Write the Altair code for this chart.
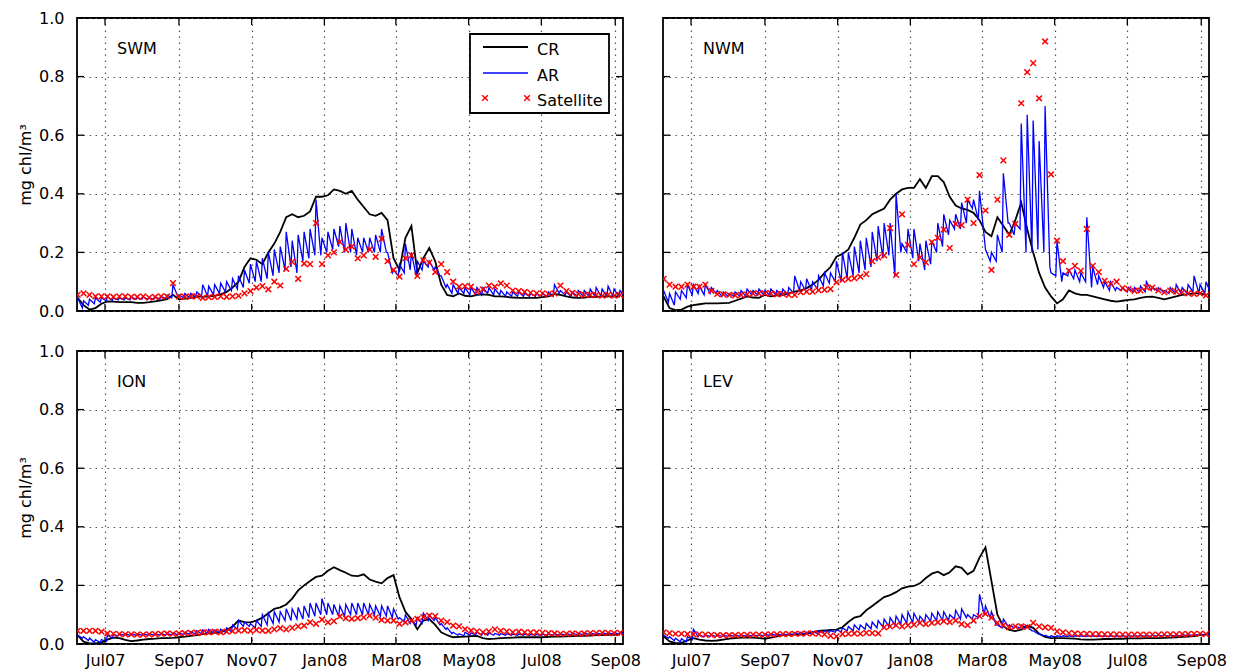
import altair as alt
import pandas as pd

# ---------------- data ----------------
START_DATE = "2007-06-08"   # first 5-day step
STEP_DAYS = 5
AR_DECAY_DAYS = 4           # AR value just before the next assimilation

TICK_MONTHS = ["2007-07", "2007-09", "2007-11", "2008-01",
               "2008-03", "2008-05", "2008-07", "2008-09"]
Y_TICKS = [0.0, 0.2, 0.4, 0.6, 0.8, 1.0]
SERIES = ["CR", "AR", "Satellite"]

SWM_CR = [0.045, 0.02, 0.005, 0.01, 0.025, 0.033, 0.032, 0.03, 0.03, 0.03,
          0.028, 0.028, 0.03, 0.033, 0.036, 0.04, 0.055, 0.04, 0.042, 0.045,
          0.05, 0.048, 0.05, 0.052, 0.057, 0.065, 0.08, 0.1, 0.15, 0.18,
          0.175, 0.16, 0.2, 0.23, 0.27, 0.32, 0.33, 0.32, 0.325, 0.34,
          0.39, 0.39, 0.395, 0.415, 0.41, 0.40, 0.41, 0.38, 0.355, 0.33,
          0.325, 0.335, 0.31, 0.18, 0.14, 0.25, 0.29, 0.13, 0.18, 0.215,
          0.17, 0.09, 0.055, 0.05, 0.06, 0.052, 0.05, 0.055, 0.057, 0.055,
          0.05, 0.05, 0.048, 0.046, 0.045, 0.045, 0.045, 0.045, 0.047, 0.05,
          0.058, 0.055, 0.05, 0.046, 0.045, 0.046, 0.048, 0.048, 0.05, 0.05,
          0.05, 0.05]
SWM_SAT = [0.055, 0.06, 0.055, 0.05, 0.05, 0.05, 0.048, 0.05, 0.05, 0.048,
           0.048, 0.05, 0.046, 0.048, 0.05, 0.05, 0.095, 0.05, 0.048, 0.05,
           0.05, 0.045, 0.047, 0.048, 0.05, 0.048, 0.05, 0.052, 0.06, 0.068,
           0.08, 0.085, 0.074, 0.1, 0.087, 0.144, 0.168, 0.11, 0.162, 0.16,
           0.30, 0.16, 0.19, 0.2, 0.236, 0.21, 0.22, 0.18, 0.19, 0.21,
           0.185, 0.246, 0.17, 0.14, 0.117, 0.18, 0.19, 0.12, 0.173, 0.165,
           0.133, 0.16, 0.133, 0.1, 0.083, 0.085, 0.083, 0.066, 0.074, 0.087,
           0.083, 0.094, 0.087, 0.07, 0.068, 0.065, 0.062, 0.06, 0.06, 0.058,
           0.06, 0.087, 0.068, 0.062, 0.058, 0.055, 0.055, 0.055, 0.052, 0.055,
           0.052, 0.055]
SWM_AR_PEAK = [0.045, 0.035, 0.04, 0.045, 0.045, 0.05, 0.045, 0.045, 0.045, 0.048,
               0.045, 0.048, 0.045, 0.048, 0.05, 0.055, 0.09, 0.055, 0.06, 0.06,
               0.065, 0.09, 0.085, 0.09, 0.095, 0.1, 0.11, 0.12, 0.14, 0.16,
               0.17, 0.18, 0.2, 0.21, 0.22, 0.27, 0.24, 0.26, 0.27, 0.28,
               0.38, 0.25, 0.27, 0.28, 0.29, 0.3, 0.28, 0.25, 0.25, 0.25,
               0.26, 0.28, 0.2, 0.14, 0.16, 0.23, 0.2, 0.17, 0.17, 0.17,
               0.15, 0.12, 0.09, 0.09, 0.08, 0.08, 0.08, 0.08, 0.08, 0.08,
               0.075, 0.07, 0.065, 0.065, 0.065, 0.06, 0.06, 0.06, 0.06, 0.065,
               0.09, 0.07, 0.065, 0.065, 0.07, 0.07, 0.075, 0.08, 0.075, 0.085,
               0.075, 0.07]
SWM_AR_LOW = [0.01, 0.02, 0.025, 0.03, 0.035, 0.035, 0.038, 0.038, 0.038, 0.04,
              0.04, 0.04, 0.04, 0.04, 0.042, 0.045, 0.05, 0.045, 0.045, 0.048,
              0.05, 0.05, 0.055, 0.06, 0.065, 0.07, 0.075, 0.08, 0.095, 0.1,
              0.1, 0.11, 0.12, 0.13, 0.14, 0.15, 0.13, 0.17, 0.18, 0.19,
              0.19, 0.2, 0.21, 0.22, 0.2, 0.2, 0.19, 0.2, 0.2, 0.2,
              0.2, 0.2, 0.13, 0.12, 0.13, 0.14, 0.12, 0.14, 0.15, 0.14,
              0.12, 0.08, 0.06, 0.06, 0.06, 0.055, 0.055, 0.055, 0.06, 0.055,
              0.055, 0.05, 0.05, 0.05, 0.05, 0.05, 0.05, 0.05, 0.05, 0.05,
              0.06, 0.055, 0.05, 0.05, 0.05, 0.05, 0.05, 0.05, 0.05, 0.05,
              0.05, 0.05]

NWM_CR = [0.05, 0.01, 0.003, 0.005, 0.015, 0.02, 0.023, 0.026, 0.026, 0.026,
          0.027, 0.028, 0.035, 0.042, 0.05, 0.046, 0.045, 0.055, 0.05, 0.053,
          0.055, 0.06, 0.066, 0.07, 0.078, 0.09, 0.106, 0.13, 0.15, 0.185,
          0.195, 0.21, 0.25, 0.295, 0.31, 0.33, 0.34, 0.35, 0.38, 0.40,
          0.415, 0.42, 0.42, 0.45, 0.42, 0.46, 0.46, 0.44, 0.39, 0.36,
          0.35, 0.345, 0.335, 0.31, 0.27, 0.255, 0.32, 0.29, 0.26, 0.31,
          0.37, 0.28, 0.2, 0.13, 0.08, 0.05, 0.026, 0.04, 0.07, 0.06,
          0.055, 0.055, 0.05, 0.045, 0.04, 0.035, 0.032, 0.035, 0.038, 0.04,
          0.045, 0.048, 0.049, 0.045, 0.04, 0.045, 0.05, 0.055, 0.057, 0.06,
          0.06, 0.055]
NWM_SAT = [0.11, 0.09, 0.083, 0.083, 0.09, 0.083, 0.083, 0.09, 0.069, 0.058,
           0.057, 0.055, 0.053, 0.055, 0.057, 0.06, 0.06, 0.06, 0.06, 0.057,
           0.058, 0.055, 0.055, 0.064, 0.066, 0.066, 0.071, 0.072, 0.075, 0.098,
           0.106, 0.11, 0.112, 0.117, 0.126, 0.17, 0.183, 0.19, 0.283, 0.123,
           0.33, 0.226, 0.16, 0.183, 0.166, 0.235, 0.25, 0.278, 0.215, 0.297,
           0.293, 0.38, 0.3, 0.464, 0.343, 0.14, 0.38, 0.514, 0.26, 0.297,
           0.709, 0.815, 0.846, 0.726, 0.92, 0.466, 0.24, 0.17, 0.137, 0.154,
           0.137, 0.28, 0.154, 0.133, 0.103, 0.093, 0.1, 0.078, 0.075, 0.069,
           0.07, 0.081, 0.08, 0.07, 0.064, 0.07, 0.066, 0.064, 0.06, 0.058,
           0.06, 0.053]
NWM_AR_PEAK = [0.07, 0.06, 0.065, 0.07, 0.09, 0.09, 0.085, 0.09, 0.08, 0.07,
               0.065, 0.06, 0.065, 0.07, 0.075, 0.07, 0.075, 0.07, 0.075, 0.07,
               0.075, 0.08, 0.12, 0.1, 0.11, 0.1, 0.12, 0.13, 0.13, 0.17,
               0.2, 0.2, 0.22, 0.24, 0.25, 0.27, 0.29, 0.3, 0.3, 0.4,
               0.23, 0.28, 0.28, 0.23, 0.24, 0.24, 0.3, 0.33, 0.31, 0.33,
               0.37, 0.38, 0.38, 0.41, 0.21, 0.2, 0.26, 0.47, 0.3, 0.3,
               0.64, 0.67, 0.65, 0.58, 0.70, 0.13, 0.24, 0.13, 0.14, 0.14,
               0.13, 0.32, 0.15, 0.12, 0.1, 0.1, 0.08, 0.08, 0.08, 0.08,
               0.085, 0.1, 0.08, 0.08, 0.07, 0.08, 0.09, 0.08, 0.09, 0.12,
               0.09, 0.1]
NWM_AR_LOW = [0.03, 0.02, 0.04, 0.045, 0.055, 0.06, 0.055, 0.06, 0.06, 0.05,
              0.05, 0.05, 0.05, 0.05, 0.055, 0.055, 0.055, 0.055, 0.055, 0.055,
              0.055, 0.06, 0.07, 0.07, 0.07, 0.075, 0.085, 0.095, 0.1, 0.1,
              0.11, 0.12, 0.13, 0.14, 0.15, 0.17, 0.18, 0.19, 0.12, 0.2,
              0.2, 0.18, 0.17, 0.14, 0.16, 0.2, 0.22, 0.26, 0.28, 0.28,
              0.3, 0.35, 0.31, 0.25, 0.17, 0.17, 0.2, 0.3, 0.26, 0.28,
              0.2, 0.2, 0.21, 0.2, 0.15, 0.12, 0.1, 0.12, 0.11, 0.1,
              0.1, 0.08, 0.09, 0.08, 0.07, 0.07, 0.07, 0.065, 0.065, 0.065,
              0.065, 0.07, 0.07, 0.065, 0.06, 0.06, 0.06, 0.06, 0.065, 0.06,
              0.06, 0.06]

ION_CR = [0.03, 0.008, 0.002, 0.002, 0.005, 0.015, 0.022, 0.02, 0.014, 0.01,
          0.012, 0.015, 0.017, 0.018, 0.02, 0.02, 0.021, 0.023, 0.025, 0.028,
          0.03, 0.034, 0.036, 0.038, 0.04, 0.048, 0.06, 0.08, 0.075, 0.074,
          0.08, 0.09, 0.105, 0.12, 0.125, 0.135, 0.155, 0.183, 0.2, 0.215,
          0.229, 0.233, 0.25, 0.262, 0.252, 0.243, 0.233, 0.232, 0.238, 0.22,
          0.213, 0.207, 0.225, 0.235, 0.16, 0.11, 0.085, 0.05, 0.08, 0.085,
          0.065, 0.04, 0.03, 0.023, 0.024, 0.025, 0.027, 0.028, 0.02, 0.017,
          0.018, 0.02, 0.021, 0.022, 0.023, 0.023, 0.023, 0.023, 0.023, 0.024,
          0.025, 0.025, 0.026, 0.027, 0.028, 0.028, 0.029, 0.03, 0.03, 0.031,
          0.031, 0.032]
ION_SAT = [0.045, 0.045, 0.045, 0.045, 0.042, 0.036, 0.035, 0.034, 0.033, 0.033,
           0.032, 0.032, 0.033, 0.034, 0.035, 0.036, 0.035, 0.036, 0.037, 0.038,
           0.038, 0.04, 0.04, 0.042, 0.04, 0.042, 0.044, 0.046, 0.047, 0.045,
           0.048, 0.046, 0.045, 0.05, 0.054, 0.05, 0.055, 0.06, 0.063, 0.074,
           0.069, 0.083, 0.074, 0.078, 0.094, 0.088, 0.086, 0.088, 0.091, 0.097,
           0.09, 0.082, 0.08, 0.08, 0.069, 0.074, 0.08, 0.086, 0.092, 0.097,
           0.095, 0.08, 0.075, 0.063, 0.06, 0.051, 0.046, 0.043, 0.04, 0.043,
           0.05, 0.045, 0.043, 0.04, 0.042, 0.04, 0.04, 0.04, 0.038, 0.037,
           0.036, 0.035, 0.035, 0.036, 0.035, 0.036, 0.037, 0.037, 0.038, 0.038,
           0.037, 0.038]
ION_AR_PEAK = [0.03, 0.025, 0.02, 0.015, 0.015, 0.03, 0.032, 0.034, 0.034, 0.034,
               0.034, 0.034, 0.035, 0.035, 0.036, 0.036, 0.038, 0.038, 0.04, 0.042,
               0.045, 0.048, 0.05, 0.048, 0.05, 0.055, 0.065, 0.08, 0.075, 0.07,
               0.08, 0.1, 0.105, 0.11, 0.11, 0.12, 0.12, 0.125, 0.13, 0.14,
               0.14, 0.155, 0.14, 0.135, 0.13, 0.135, 0.14, 0.14, 0.14, 0.135,
               0.13, 0.13, 0.13, 0.12, 0.09, 0.1, 0.08, 0.09, 0.105, 0.1,
               0.09, 0.07, 0.055, 0.04, 0.035, 0.04, 0.038, 0.042, 0.04, 0.038,
               0.036, 0.035, 0.035, 0.034, 0.034, 0.034, 0.033, 0.033, 0.033, 0.034,
               0.035, 0.035, 0.036, 0.037, 0.037, 0.038, 0.038, 0.038, 0.039, 0.039,
               0.04, 0.04]
ION_AR_LOW = [0.02, 0.012, 0.006, 0.005, 0.008, 0.02, 0.028, 0.03, 0.03, 0.03,
              0.03, 0.03, 0.03, 0.03, 0.03, 0.031, 0.031, 0.032, 0.033, 0.034,
              0.035, 0.036, 0.038, 0.038, 0.04, 0.042, 0.05, 0.06, 0.06, 0.055,
              0.06, 0.065, 0.07, 0.075, 0.08, 0.08, 0.085, 0.085, 0.09, 0.095,
              0.1, 0.1, 0.1, 0.095, 0.095, 0.1, 0.1, 0.1, 0.1, 0.1,
              0.095, 0.095, 0.09, 0.085, 0.075, 0.07, 0.065, 0.07, 0.08, 0.08,
              0.065, 0.05, 0.035, 0.03, 0.028, 0.03, 0.03, 0.03, 0.03, 0.03,
              0.03, 0.03, 0.03, 0.03, 0.03, 0.03, 0.03, 0.03, 0.03, 0.03,
              0.03, 0.03, 0.031, 0.032, 0.032, 0.032, 0.033, 0.033, 0.034, 0.034,
              0.034, 0.035]

LEV_CR = [0.026, 0.009, 0.003, 0.004, 0.012, 0.02, 0.015, 0.012, 0.011, 0.012,
          0.015, 0.018, 0.02, 0.022, 0.023, 0.022, 0.02, 0.018, 0.022, 0.026,
          0.03, 0.031, 0.032, 0.032, 0.035, 0.04, 0.045, 0.046, 0.048, 0.049,
          0.057, 0.075, 0.09, 0.095, 0.115, 0.13, 0.145, 0.16, 0.167, 0.177,
          0.19, 0.196, 0.198, 0.207, 0.225, 0.24, 0.247, 0.235, 0.245, 0.265,
          0.26, 0.238, 0.25, 0.295, 0.33, 0.215, 0.1, 0.06, 0.048, 0.044,
          0.049, 0.063, 0.055, 0.035, 0.024, 0.02, 0.02, 0.02, 0.019, 0.018,
          0.016, 0.015, 0.015, 0.016, 0.017, 0.017, 0.018, 0.018, 0.019, 0.019,
          0.019, 0.02, 0.02, 0.02, 0.021, 0.022, 0.023, 0.024, 0.025, 0.027,
          0.03, 0.032]
LEV_SAT = [0.04, 0.037, 0.035, 0.035, 0.034, 0.033, 0.033, 0.032, 0.031, 0.03,
           0.03, 0.03, 0.03, 0.031, 0.031, 0.032, 0.032, 0.032, 0.033, 0.033,
           0.034, 0.034, 0.035, 0.035, 0.036, 0.036, 0.035, 0.033, 0.028, 0.026,
           0.034, 0.035, 0.036, 0.035, 0.038, 0.037, 0.036, 0.057, 0.06, 0.064,
           0.06, 0.064, 0.066, 0.072, 0.068, 0.072, 0.074, 0.078, 0.075, 0.08,
           0.068, 0.064, 0.08, 0.095, 0.103, 0.09, 0.072, 0.064, 0.057, 0.06,
           0.06, 0.058, 0.072, 0.06, 0.057, 0.055, 0.043, 0.04, 0.037, 0.036,
           0.035, 0.035, 0.034, 0.034, 0.033, 0.033, 0.033, 0.032, 0.032, 0.032,
           0.032, 0.032, 0.032, 0.032, 0.033, 0.033, 0.033, 0.034, 0.034, 0.035,
           0.035, 0.034]
LEV_AR_PEAK = [0.03, 0.025, 0.02, 0.018, 0.025, 0.05, 0.03, 0.03, 0.03, 0.03,
               0.03, 0.03, 0.031, 0.031, 0.032, 0.032, 0.032, 0.033, 0.034, 0.034,
               0.035, 0.036, 0.038, 0.04, 0.04, 0.042, 0.044, 0.046, 0.046, 0.048,
               0.055, 0.06, 0.065, 0.065, 0.07, 0.075, 0.08, 0.085, 0.09, 0.095,
               0.1, 0.11, 0.105, 0.095, 0.1, 0.105, 0.11, 0.11, 0.1, 0.115,
               0.12, 0.1, 0.1, 0.17, 0.13, 0.11, 0.065, 0.085, 0.065, 0.06,
               0.065, 0.06, 0.045, 0.035, 0.03, 0.028, 0.028, 0.028, 0.028, 0.028,
               0.028, 0.028, 0.028, 0.028, 0.028, 0.028, 0.028, 0.028, 0.029, 0.029,
               0.029, 0.029, 0.03, 0.03, 0.03, 0.031, 0.031, 0.032, 0.032, 0.033,
               0.034, 0.035]
LEV_AR_LOW = [0.02, 0.011, 0.008, 0.007, 0.015, 0.025, 0.025, 0.026, 0.026, 0.026,
              0.026, 0.027, 0.027, 0.027, 0.028, 0.028, 0.028, 0.029, 0.03, 0.03,
              0.031, 0.032, 0.033, 0.034, 0.035, 0.036, 0.038, 0.04, 0.04, 0.042,
              0.045, 0.045, 0.048, 0.05, 0.052, 0.055, 0.058, 0.06, 0.065, 0.068,
              0.07, 0.072, 0.075, 0.075, 0.078, 0.08, 0.08, 0.08, 0.085, 0.085,
              0.09, 0.085, 0.09, 0.1, 0.09, 0.065, 0.055, 0.06, 0.055, 0.055,
              0.055, 0.045, 0.035, 0.028, 0.023, 0.024, 0.025, 0.025, 0.025, 0.025,
              0.025, 0.025, 0.025, 0.025, 0.025, 0.025, 0.026, 0.026, 0.026, 0.026,
              0.026, 0.026, 0.027, 0.027, 0.027, 0.028, 0.028, 0.029, 0.029, 0.03,
              0.031, 0.032]

# ---------------- style ----------------
FONT = "DejaVu Sans"
FS = 16
W = 546
H = 293
TICK_LEN = 7
X_PATH = "M-1,-1L1,1M-1,1L1,-1"
Y_TITLE = "mg chl/m\u00b3"
MARK_SIZE = 32

x_domain = [alt.DateTime(year=2007, month=6, date=7, hours=12),
            alt.DateTime(year=2008, month=9, date=7, hours=12)]
x_tick_dt = [alt.DateTime(year=int(s[:4]), month=int(s[5:7]), date=1) for s in TICK_MONTHS]
tick_df = pd.DataFrame({"date": pd.to_datetime([s + "-01T00:00:00" for s in TICK_MONTHS])})
ytick_df = pd.DataFrame({"value": Y_TICKS})


def panel(name, cr, ar_peak, ar_low, sat, x_labels, y_labels, legend):
    dates = pd.date_range(START_DATE, periods=len(cr), freq=f"{STEP_DAYS}D")
    cr_df = pd.DataFrame({"date": dates, "value": cr})
    ar_dates, ar_vals = [], []
    for d, p, lo in zip(dates, ar_peak, ar_low):
        ar_dates += [d, d + pd.Timedelta(days=AR_DECAY_DAYS)]
        ar_vals += [p, lo]
    ar_df = pd.DataFrame({"date": ar_dates, "value": ar_vals})
    sat_df = pd.DataFrame({"date": dates, "value": sat})

    xs = alt.Scale(domain=x_domain)
    ys = alt.Scale(domain=[0, 1], nice=False, zero=False)
    xa = alt.Axis(values=x_tick_dt, format="%b%y", grid=True, ticks=False, domain=False,
                  labels=x_labels, labelPadding=8, labelFlush=False, labelOverlap=False,
                  title=None)
    ya = alt.Axis(values=Y_TICKS, format=".1f", grid=True, ticks=False, domain=False,
                  labels=y_labels, labelPadding=13, labelFlush=False,
                  title=Y_TITLE if y_labels else None, titlePadding=5)

    X = alt.X("date:T", scale=xs, axis=xa)
    Y = alt.Y("value:Q", scale=ys, axis=ya)

    cr_line = alt.Chart(cr_df).mark_line(color="black", strokeWidth=1.8, clip=True).encode(x=X, y=Y)
    ar_line = alt.Chart(ar_df).mark_line(color="#0000ff", strokeWidth=1.3, clip=True).encode(x=X, y=Y)
    sat_pts = alt.Chart(sat_df).mark_point(shape=X_PATH, filled=False, color="#ff0000",
                                           size=MARK_SIZE, strokeWidth=1.5, opacity=1, clip=True).encode(x=X, y=Y)

    xt_bot = alt.Chart(tick_df).mark_rule(color="black", strokeWidth=1.3).encode(
        x=X, y=alt.value(H - TICK_LEN), y2=alt.value(H))
    xt_top = alt.Chart(tick_df).mark_rule(color="black", strokeWidth=1.3).encode(
        x=X, y=alt.value(0), y2=alt.value(TICK_LEN))
    yt_l = alt.Chart(ytick_df).mark_rule(color="black", strokeWidth=1.3).encode(
        y=Y, x=alt.value(0), x2=alt.value(TICK_LEN))
    yt_r = alt.Chart(ytick_df).mark_rule(color="black", strokeWidth=1.3).encode(
        y=Y, x=alt.value(W - TICK_LEN), x2=alt.value(W))

    label = alt.Chart(pd.DataFrame({"t": [name]})).mark_text(
        align="left", baseline="middle", font=FONT, fontSize=FS, color="black").encode(
        x=alt.value(40), y=alt.value(31), text="t:N")

    layers = [cr_line, ar_line, sat_pts, xt_bot, xt_top, yt_l, yt_r, label]

    if legend:
        one = pd.DataFrame({"t": [""]})
        box = alt.Chart(one).mark_rect(fill="white", stroke="black", strokeWidth=1.8).encode(
            x=alt.value(393), x2=alt.value(532), y=alt.value(16), y2=alt.value(95))
        layers.append(box)
        rows_y = [29, 55, 80]
        colors = ["black", "#0000ff"]
        for i, s in enumerate(SERIES):
            yy = rows_y[i]
            if i < 2:
                layers.append(alt.Chart(one).mark_rule(color=colors[i], strokeWidth=1.8 if i == 0 else 1.4).encode(
                    x=alt.value(406), x2=alt.value(451), y=alt.value(yy)))
            else:
                for xx in (408, 450):
                    layers.append(alt.Chart(one).mark_point(shape=X_PATH, filled=False, color="#ff0000",
                                                            size=MARK_SIZE, strokeWidth=1.5, opacity=1).encode(
                        x=alt.value(xx), y=alt.value(yy)))
            layers.append(alt.Chart(pd.DataFrame({"t": [s]})).mark_text(
                align="left", baseline="middle", font=FONT, fontSize=FS, color="black").encode(
                x=alt.value(460), y=alt.value(yy + 3), text="t:N"))

    return alt.layer(*layers).properties(width=W, height=H)


swm = panel("SWM", SWM_CR, SWM_AR_PEAK, SWM_AR_LOW, SWM_SAT, False, True, True)
nwm = panel("NWM", NWM_CR, NWM_AR_PEAK, NWM_AR_LOW, NWM_SAT, False, False, False)
ion = panel("ION", ION_CR, ION_AR_PEAK, ION_AR_LOW, ION_SAT, True, True, False)
lev = panel("LEV", LEV_CR, LEV_AR_PEAK, LEV_AR_LOW, LEV_SAT, True, False, False)

chart = alt.concat(swm, nwm, ion, lev, columns=2, spacing=40, bounds="flush").properties(
    padding={"left": 16, "top": 9, "right": 5, "bottom": 2}
).configure_view(
    stroke="black", strokeWidth=1.8
).configure_axis(
    labelFont=FONT, labelFontSize=FS, labelColor="black",
    titleFont=FONT, titleFontSize=FS, titleFontWeight="normal", titleColor="black",
    gridColor="#555555", gridDash=[1.5, 4.5], gridWidth=1.2, gridOpacity=1
)

chart.save("out.html", embed_options={"renderer": "svg", "actions": False})
